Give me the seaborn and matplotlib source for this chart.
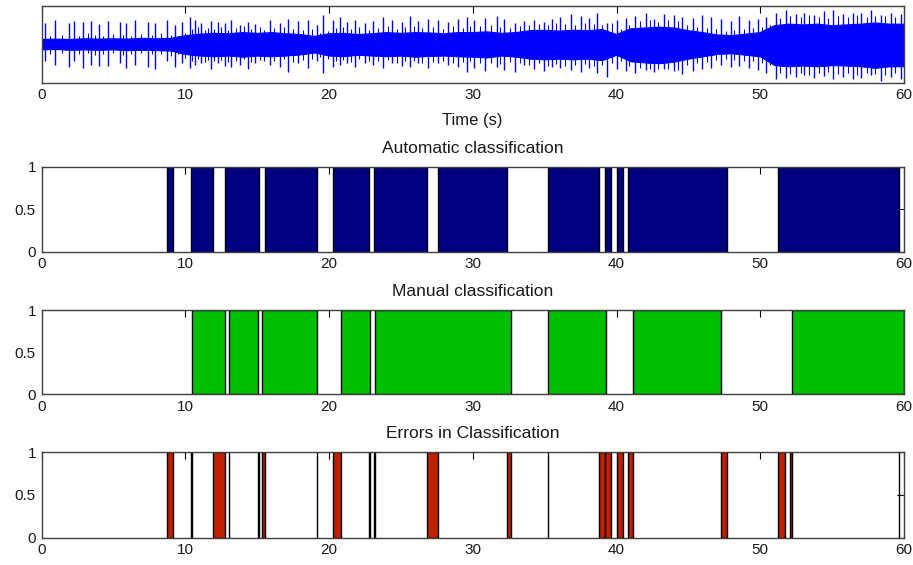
import numpy as np
import matplotlib
matplotlib.use("Agg")
import matplotlib.pyplot as plt
import seaborn as sns

# ---------------- data ----------------
# Classification intervals (seconds)
auto_start = [8.71, 10.38, 12.77, 15.55, 20.31, 23.16, 27.57, 35.23, 39.23, 40.03, 40.79, 51.20]
auto_end   = [9.13, 11.91, 15.16, 19.19, 22.81, 26.85, 32.41, 38.78, 39.65, 40.42, 47.68, 59.65]

manual_start = [10.49, 13.07, 15.37, 20.82, 23.21, 35.25, 41.18, 52.18]
manual_end   = [12.75, 15.07, 19.17, 22.88, 32.65, 39.26, 47.26, 60.00]

err_start = [8.72, 10.38, 11.92, 13.03, 15.07, 15.37, 19.16, 20.31, 22.81, 23.16, 26.85,
             32.40, 35.22, 38.78, 39.23, 40.03, 40.79, 47.26, 51.20, 52.05, 59.64]
err_end   = [9.13, 10.45, 12.77, 13.07, 15.16, 15.55, 19.19, 20.82, 22.88, 23.21, 27.58,
             32.66, 35.26, 39.23, 39.65, 40.42, 41.18, 47.68, 51.70, 52.18, 59.66]

# Signal: core envelope sampled every second (0..60 s)
env_t = list(range(0, 61))
env_up = [0.12, 0.13, 0.12, 0.14, 0.13, 0.14, 0.13, 0.15, 0.14, 0.15,
          0.22, 0.26, 0.28, 0.27, 0.30, 0.28, 0.30, 0.27, 0.25, 0.20,
          0.27, 0.28, 0.25, 0.27, 0.30, 0.28, 0.30, 0.29, 0.27, 0.30,
          0.30, 0.32, 0.28, 0.30, 0.35, 0.36, 0.34, 0.36, 0.35, 0.38,
          0.25, 0.40, 0.42, 0.44, 0.42, 0.35, 0.30, 0.24, 0.22, 0.26,
          0.30, 0.48, 0.52, 0.50, 0.52, 0.48, 0.50, 0.52, 0.55, 0.52, 0.52]
env_dn = [0.14, 0.13, 0.15, 0.14, 0.15, 0.14, 0.16, 0.15, 0.16, 0.17,
          0.26, 0.30, 0.32, 0.30, 0.33, 0.30, 0.32, 0.30, 0.27, 0.22,
          0.30, 0.32, 0.28, 0.30, 0.32, 0.30, 0.33, 0.31, 0.30, 0.32,
          0.33, 0.35, 0.30, 0.33, 0.38, 0.40, 0.38, 0.40, 0.38, 0.42,
          0.28, 0.45, 0.48, 0.50, 0.46, 0.38, 0.32, 0.26, 0.24, 0.28,
          0.32, 0.55, 0.58, 0.56, 0.58, 0.55, 0.56, 0.58, 0.62, 0.58, 0.58]

# Signal: large spikes (time, positive peak, negative peak)
spike_t = [0.27, 0.92, 1.89, 2.26, 2.89, 3.42, 4.00, 4.63, 5.44, 5.90, 6.48, 7.41, 7.92,
           8.75, 9.27, 9.78, 10.31, 10.66, 11.12, 11.82, 12.28, 12.75, 13.21, 13.79, 14.37, 14.84,
           15.90, 16.60, 17.17, 17.87, 18.52, 19.15, 19.61, 20.31, 20.77, 21.24, 21.82, 22.51,
           23.09, 23.79, 24.37, 25.07, 25.64, 26.22, 26.92, 27.61, 28.31, 29.00, 29.59,
           30.08, 30.88, 31.70, 32.16, 32.97, 33.56, 34.25, 34.95, 35.53, 36.10, 36.80, 37.50,
           38.08, 38.66, 39.35, 40.05, 40.63, 41.32, 42.02, 42.60, 43.30, 44.00, 44.57,
           45.29, 45.98, 46.57, 47.26, 47.96, 48.54, 49.23, 49.81, 50.40, 51.09, 51.79, 52.48,
           53.06, 53.76, 54.45, 55.03, 55.73, 56.42, 57.01, 57.70, 58.40, 59.10, 59.79]
spike_up = [0.55, 0.62, 0.55, 0.60, 0.58, 0.60, 0.52, 0.60, 0.58, 0.55, 0.62, 0.58, 0.55,
            0.62, 0.50, 0.58, 0.70, 0.62, 0.55, 0.60, 0.58, 0.55, 0.62, 0.50, 0.58, 0.52,
            0.62, 0.55, 0.65, 0.60, 0.62, 0.50, 0.75, 0.62, 0.70, 0.58, 0.62, 0.55,
            0.60, 0.70, 0.62, 0.58, 0.72, 0.60, 0.65, 0.62, 0.58, 0.65, 0.70,
            0.62, 0.68, 0.72, 0.65, 0.55, 0.60, 0.62, 0.58, 0.65, 0.70, 0.78, 0.72,
            0.68, 0.80, 0.55, 0.62, 0.68, 0.72, 0.80, 0.65, 0.78, 0.75, 0.70,
            0.68, 0.75, 0.70, 0.65, 0.60, 0.72, 0.62, 0.65, 0.70, 0.82, 0.88, 0.78,
            0.80, 0.75, 0.85, 0.88, 0.78, 0.82, 0.80, 0.88, 0.75, 0.82, 0.78]
spike_dn = [0.45, 0.55, 0.60, 0.45, 0.62, 0.55, 0.58, 0.58, 0.50, 0.62, 0.55, 0.60, 0.65,
            0.45, 0.60, 0.50, 0.62, 0.55, 0.48, 0.65, 0.50, 0.58, 0.60, 0.55, 0.65, 0.50,
            0.55, 0.60, 0.72, 0.50, 0.62, 0.45, 0.75, 0.60, 0.55, 0.50, 0.60, 0.48,
            0.55, 0.62, 0.50, 0.58, 0.60, 0.50, 0.62, 0.48, 0.55, 0.60, 0.72,
            0.62, 0.70, 0.60, 0.68, 0.72, 0.55, 0.65, 0.70, 0.60, 0.62, 0.68, 0.72,
            0.62, 0.75, 0.85, 0.65, 0.70, 0.75, 0.68, 0.72, 0.65, 0.70, 0.78,
            0.70, 0.65, 0.62, 0.55, 0.60, 0.58, 0.62, 0.68, 0.75, 0.92, 0.88, 0.85,
            0.80, 0.88, 0.82, 0.90, 0.85, 0.92, 0.88, 0.80, 0.95, 0.85, 0.90]

# Signal: smaller spikes between the large ones
minor_t = [0.6, 1.4, 2.6, 3.2, 3.7, 4.3, 5.0, 5.7, 6.2, 6.9,
           7.7, 8.3, 9.0, 9.5, 10.0, 10.5, 10.9, 11.4, 11.6, 12.0,
           12.5, 13.0, 13.5, 14.1, 14.6, 15.2, 15.5, 16.2, 16.9, 17.5,
           18.2, 18.8, 19.4, 19.9, 20.5, 21.0, 21.5, 22.1, 22.8, 23.4,
           24.1, 24.7, 25.3, 25.9, 26.5, 27.2, 27.9, 28.6, 29.3, 29.8,
           30.5, 31.3, 31.9, 32.6, 33.3, 33.9, 34.6, 35.2, 35.8, 36.4,
           37.1, 37.8, 38.4, 39.0, 39.7, 40.3, 40.9, 41.6, 42.3, 42.9,
           43.6, 44.3, 44.9, 45.6, 46.3, 46.9, 47.6, 48.2, 48.9, 49.5,
           50.1, 50.7, 51.4, 52.1, 52.8, 53.4, 54.1, 54.7, 55.4, 56.1,
           56.7, 57.4, 58.0, 58.7, 59.4]
minor_up = [0.22, 0.25, 0.20, 0.28, 0.24, 0.22, 0.27, 0.25, 0.21, 0.26,
            0.24, 0.28, 0.25, 0.22, 0.30, 0.40, 0.45, 0.38, 0.42, 0.40,
            0.44, 0.38, 0.42, 0.46, 0.40, 0.44, 0.38, 0.42, 0.45, 0.40,
            0.36, 0.40, 0.30, 0.35, 0.42, 0.45, 0.40, 0.44, 0.38, 0.42,
            0.46, 0.40, 0.44, 0.48, 0.42, 0.45, 0.40, 0.46, 0.42, 0.48,
            0.46, 0.50, 0.44, 0.42, 0.48, 0.50, 0.52, 0.50, 0.55, 0.52,
            0.50, 0.55, 0.52, 0.50, 0.55, 0.40, 0.50, 0.60, 0.62, 0.58,
            0.62, 0.60, 0.50, 0.45, 0.42, 0.40, 0.35, 0.38, 0.40, 0.42,
            0.45, 0.50, 0.68, 0.72, 0.70, 0.75, 0.70, 0.68, 0.72, 0.70,
            0.75, 0.70, 0.72, 0.74, 0.70]
minor_dn = [0.25, 0.22, 0.27, 0.24, 0.28, 0.25, 0.23, 0.28, 0.26, 0.24,
            0.27, 0.25, 0.30, 0.26, 0.35, 0.44, 0.40, 0.46, 0.42, 0.45,
            0.42, 0.46, 0.44, 0.40, 0.46, 0.42, 0.45, 0.44, 0.40, 0.46,
            0.42, 0.38, 0.34, 0.40, 0.45, 0.42, 0.46, 0.40, 0.44, 0.45,
            0.42, 0.48, 0.45, 0.44, 0.50, 0.46, 0.44, 0.48, 0.46, 0.45,
            0.50, 0.48, 0.52, 0.46, 0.50, 0.54, 0.50, 0.56, 0.52, 0.58,
            0.55, 0.52, 0.58, 0.55, 0.50, 0.45, 0.58, 0.62, 0.66, 0.64,
            0.65, 0.68, 0.55, 0.50, 0.46, 0.42, 0.40, 0.42, 0.45, 0.44,
            0.48, 0.55, 0.75, 0.78, 0.74, 0.80, 0.76, 0.72, 0.78, 0.75,
            0.80, 0.76, 0.78, 0.80, 0.75]

x_ticks = [0, 10, 20, 30, 40, 50, 60]
y_ticks = [0, 0.5, 1]
y_ticklabels = ["0", "0.5", "1"]
titles = ["Automatic classification", "Manual classification", "Errors in Classification"]
colors = ["#000080", "#00bf00", "#bf2000"]

# ---------------- figure ----------------
sns.set_theme(style="white")
plt.rcParams['font.family'] = ['Liberation Sans', 'DejaVu Sans']
plt.rcParams['font.size'] = 10

W, H = 913, 565
fig = plt.figure(figsize=(W / 100, H / 100), dpi=100)

def frac(top_px, bottom_px, left_px=41.5, right_px=904.0):
    return [left_px / W, 1 - bottom_px / H, (right_px - left_px) / W, (bottom_px - top_px) / H]

spine_col = "#404040"
text_col = "#1a1a1a"

def style_axes(ax):
    for s in ax.spines.values():
        s.set_color(spine_col)
        s.set_linewidth(1.0)
    ax.tick_params(direction="in", top=True, right=True, length=5, width=0.8,
                   color="black", labelsize=11, pad=4, labelcolor=text_col)
    ax.set_xlim(0, 60)
    ax.set_xticks(x_ticks)

# --- top: signal ---
ax0 = fig.add_axes(frac(5.7, 82.5))
ax0.fill_between(env_t, [-v for v in env_dn], env_up, color="#0000ff", linewidth=0.6,
                 edgecolor="#0000ff")
ax0.vlines(minor_t, [-v for v in minor_dn], minor_up, color="#0000ff", linewidth=0.8)
ax0.vlines(spike_t, [-v for v in spike_dn], spike_up, color="#0000ff", linewidth=1.0)
sns.lineplot(x=env_t, y=env_up, ax=ax0, color="#0000ff", linewidth=0.8)
sns.lineplot(x=env_t, y=[-v for v in env_dn], ax=ax0, color="#0000ff", linewidth=0.8)
style_axes(ax0)
ax0.set_ylim(-1, 1)
ax0.set_yticks([])
ax0.set_xlabel("Time (s)", fontsize=12, labelpad=8, color=text_col)

# --- classification panels ---
panel_pos = [(166.7, 251.7), (310.0, 394.3), (452.3, 537.7)]
starts = [auto_start, manual_start, err_start]
ends = [auto_end, manual_end, err_end]
for (top_px, bot_px), st, en, col, ttl in zip(panel_pos, starts, ends, colors, titles):
    ax = fig.add_axes(frac(top_px, bot_px))
    widths = [e - s for s, e in zip(st, en)]
    ax.bar(st, [1] * len(st), width=widths, align="edge", bottom=0,
           color=col, edgecolor="black", linewidth=1.0)
    style_axes(ax)
    ax.set_ylim(0, 1)
    ax.set_yticks(y_ticks)
    ax.set_yticklabels(y_ticklabels)
    ax.set_title(ttl, fontsize=12.5, pad=10, color=text_col)

fig.savefig("out.png", dpi=100)
